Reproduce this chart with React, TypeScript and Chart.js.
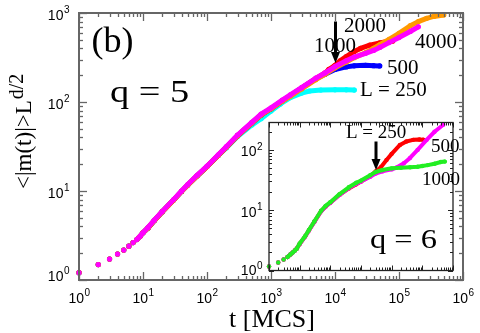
import React, { useEffect, useRef } from "react";
import { Chart, registerables } from "chart.js";
Chart.register(...registerables);

// ---------- main panel, q = 5 ----------
const tEarlyQ5 = [1, 2, 3, 4, 5, 6, 7, 8, 9, 10];
const mEarlyQ5 = [1.21, 1.49, 1.72, 1.96, 2.17, 2.4, 2.63, 2.85, 3.1, 3.4];

const tL4000 = [12, 15, 20, 30, 40, 50, 70, 100, 150, 200, 300, 500, 700, 1000, 1500, 2000, 3000, 5000, 7000, 10000, 15000, 20000, 30000, 40000, 50000, 70000, 100000, 150000, 200000];
const mL4000 = [3.9, 4.7, 5.9, 8.0, 10.0, 11.8, 15.0, 19.0, 25.5, 31.5, 42.5, 59, 73, 86, 105, 120, 145, 185, 212, 250, 290, 320, 352, 380, 410, 465, 530, 620, 700];

const tL2000 = [12, 15, 20, 30, 40, 50, 70, 100, 150, 200, 300, 500, 700, 1000, 1500, 2000, 3000, 5000, 7000, 10000, 15000, 20000, 30000, 40000, 50000, 70000, 100000, 150000, 200000, 270000, 350000, 500000];
const mL2000 = [3.85, 4.65, 5.85, 7.9, 9.9, 11.7, 14.8, 18.8, 25.2, 31, 41.8, 58, 71.5, 84, 102, 116, 140, 178, 205, 242, 282, 315, 358, 400, 440, 505, 590, 720, 800, 871, 915, 950];

const tL1000 = [12, 15, 20, 30, 40, 50, 70, 100, 150, 200, 300, 500, 700, 1000, 1500, 2000, 3000, 5000, 7000, 8000, 10000, 12000, 15000, 20000, 25000, 35000, 50000, 65000, 80000];
const mL1000 = [3.85, 4.65, 5.85, 7.9, 9.9, 11.7, 14.8, 18.8, 25.2, 31, 41.8, 58, 71.5, 84, 103, 118, 143, 183, 212, 232, 258, 290, 324, 370, 400, 435, 462, 478, 484];

const tL500 = [12, 15, 20, 30, 40, 50, 70, 100, 150, 200, 300, 500, 700, 1000, 1500, 2000, 3000, 5000, 7000, 10000, 15000, 20000, 30000, 40000, 50000];
const mL500 = [3.85, 4.65, 5.85, 7.9, 9.9, 11.7, 14.8, 18.8, 25.2, 31, 41.8, 58, 71.5, 84, 103, 118, 143, 182, 205, 232, 248, 255, 258, 256, 254];

const tL250 = [12, 15, 20, 30, 40, 50, 70, 100, 150, 200, 300, 500, 700, 1000, 1400, 2000, 3000, 4000, 6000, 10000, 15000, 20000];
const mL250 = [3.85, 4.65, 5.85, 7.9, 9.9, 11.7, 14.8, 18.8, 25, 30.5, 41, 55, 65, 79, 95, 112, 126, 133, 136, 137, 137, 136];

// ---------- inset, q = 6 ----------
const tEarlyQ6 = [1, 2, 3, 4, 5, 6, 7, 8];
const mEarlyQ6 = [1.17, 1.36, 1.52, 1.67, 1.85, 2.0, 2.15, 2.3];

const tL1000q6 = [10, 15, 20, 30, 50, 70, 100, 200, 400, 700, 1000, 2000, 3000, 5000, 10000, 20000, 40000, 70000, 100000, 150000, 250000, 400000, 540000];
const mL1000q6 = [2.8, 3.7, 4.7, 6.5, 9.8, 11.8, 13.6, 18.5, 24, 28.5, 31, 38, 43, 46.5, 49.5, 50.5, 51.5, 52.5, 54, 56, 59, 63, 64];

const tL500q6 = [10, 15, 20, 30, 50, 70, 100, 200, 400, 700, 1000, 2000, 3000, 5000, 10000, 14500, 25000, 39000, 70000, 138000, 250000, 480000];
const mL500q6 = [2.75, 3.65, 4.6, 6.4, 9.6, 11.5, 13.3, 18, 23.3, 27.5, 30, 36, 40.5, 44, 47.5, 51, 60, 73, 100, 147, 200, 261];

const tL250q6 = [10, 15, 20, 30, 50, 70, 100, 200, 400, 700, 1000, 2000, 3000, 4500, 6800, 10000, 18600, 30000, 50000, 80000, 107000];
const mL250q6 = [2.75, 3.65, 4.6, 6.4, 9.6, 11.5, 13.3, 18, 23, 27, 30, 37, 44, 52, 68, 86, 121, 138, 147, 149, 148];

const SERIF = '"Liberation Serif", "Times New Roman", serif';
const SANS = '"Liberation Sans", Arial, sans-serif';

const INSET_LEFT = 225;
const INSET_TOP = 110;

function series(ts: number[], ms: number[], color: string, order: number, r: number, bw: number, gapBelow: number) {
  return {
    data: ts.map((t, i) => ({ x: t, y: ms[i] })),
    showLine: true,
    borderColor: color,
    backgroundColor: color,
    pointRadius: r,
    pointHoverRadius: r,
    pointBorderWidth: 0,
    borderWidth: bw,
    borderJoinStyle: "round",
    borderCapStyle: "round",
    segment: {
      borderColor: (c: any) => (c.p0.parsed.x < gapBelow ? "rgba(0,0,0,0)" : color),
    },
    order,
    clip: 10,
  };
}

function drawPow(ctx: CanvasRenderingContext2D, exp: string, x: number, baseline: number, align: "center" | "right") {
  ctx.font = `14px ${SANS}`;
  const w1 = ctx.measureText("10").width;
  ctx.font = `10px ${SANS}`;
  const w2 = ctx.measureText(exp).width;
  const total = w1 + w2;
  const left = align === "center" ? x - total / 2 : x - total;
  ctx.textAlign = "left";
  ctx.textBaseline = "alphabetic";
  ctx.fillStyle = "#000";
  ctx.font = `14px ${SANS}`;
  ctx.fillText("10", left, baseline);
  ctx.font = `10px ${SANS}`;
  ctx.fillText(exp, left + w1 + 0.5, baseline - 6.5);
}

function drawTicks(ctx: CanvasRenderingContext2D, chart: any, majorLen: number, minorLen: number) {
  const a = chart.chartArea;
  const sx = chart.scales.x;
  const sy = chart.scales.y;
  const seg = (x0: number, y0: number, x1: number, y1: number) => {
    ctx.beginPath();
    ctx.moveTo(x0, y0);
    ctx.lineTo(x1, y1);
    ctx.stroke();
  };
  for (let d = 0; d <= 7; d++) {
    for (let k = 1; k <= 9; k++) {
      const v = k * Math.pow(10, d);
      if (v > sx.max * 1.0001) break;
      const px = Math.round(sx.getPixelForValue(v)) + 0.5;
      const len = k === 1 ? majorLen : minorLen;
      seg(px, a.bottom, px, a.bottom - len);
      seg(px, a.top, px, a.top + len);
    }
  }
  for (let d = 0; d <= 4; d++) {
    for (let k = 1; k <= 9; k++) {
      const v = k * Math.pow(10, d);
      if (v > sy.max * 1.0001) break;
      const py = Math.round(sy.getPixelForValue(v)) + 0.5;
      const len = k === 1 ? majorLen : minorLen;
      seg(a.left, py, a.left + len, py);
      seg(a.right, py, a.right - len, py);
    }
  }
}

function arrow(ctx: CanvasRenderingContext2D, x: number, y0: number, y1: number) {
  ctx.strokeStyle = "#000";
  ctx.fillStyle = "#000";
  ctx.lineWidth = 3;
  ctx.beginPath();
  ctx.moveTo(x, y0);
  ctx.lineTo(x, y1 - 9);
  ctx.stroke();
  ctx.beginPath();
  ctx.moveTo(x - 4.5, y1 - 11);
  ctx.lineTo(x + 4.5, y1 - 11);
  ctx.lineTo(x, y1);
  ctx.closePath();
  ctx.fill();
}

function stretched(ctx: CanvasRenderingContext2D, text: string, x: number, y: number, size: number, sx: number) {
  ctx.save();
  ctx.translate(x, y);
  ctx.scale(sx, 1);
  ctx.font = `${size}px ${SERIF}`;
  ctx.textAlign = "left";
  ctx.textBaseline = "alphabetic";
  ctx.fillStyle = "#000";
  ctx.fillText(text, 0, 0);
  ctx.restore();
}

const mainDecor = {
  id: "mainDecor",
  afterDraw(chart: any) {
    const ctx: CanvasRenderingContext2D = chart.ctx;
    const a = chart.chartArea;
    const sx = chart.scales.x;
    const sy = chart.scales.y;
    ctx.save();
    ctx.strokeStyle = "#666";
    ctx.lineWidth = 1.3;
    drawTicks(ctx, chart, 8, 4);
    ctx.lineWidth = 2;
    ctx.strokeRect(a.left, a.top, a.right - a.left, a.bottom - a.top);

    // tick labels
    for (let d = 0; d <= 6; d++) {
      drawPow(ctx, String(d), sx.getPixelForValue(Math.pow(10, d)), 302.5, "center");
    }
    for (let d = 0; d <= 3; d++) {
      const py = sy.getPixelForValue(Math.pow(10, d));
      drawPow(ctx, String(d), 69, py + 6.5 - (d === 0 ? 6 : 0), "right");
    }

    ctx.fillStyle = "#000";
    ctx.textAlign = "left";
    ctx.textBaseline = "alphabetic";
    // panel label
    ctx.font = `36px ${SERIF}`;
    ctx.fillText("(b)", 91.5, 51.5);
    stretched(ctx, "q = 5", 110, 101.5, 32, 1.2);

    // curve labels
    ctx.font = `21px ${SERIF}`;
    ctx.fillText("2000", 344, 32);
    ctx.fillText("1000", 314, 52);
    ctx.fillText("4000", 415, 48);
    ctx.fillText("500", 387, 74);
    ctx.fillText("L = 250", 360, 96);
    arrow(ctx, 335.5, 21.5, 63);

    // axis titles
    ctx.fillStyle = "#000";
    ctx.font = `26px ${SERIF}`;
    ctx.textAlign = "center";
    ctx.fillText("t [MCS]", 272, 327);

    ctx.save();
    ctx.translate(31, 189);
    ctx.rotate(-Math.PI / 2);
    ctx.textAlign = "left";
    ctx.font = `23px ${SERIF}`;
    const main = "<|m(t)|>L";
    ctx.fillText(main, 0, 0);
    const w = ctx.measureText(main).width;
    ctx.font = `20px ${SERIF}`;
    ctx.fillText("d/2", w + 1, -8);
    ctx.restore();

    ctx.restore();
  },
};

const insetDecor = {
  id: "insetDecor",
  beforeDraw(chart: any) {
    const ctx: CanvasRenderingContext2D = chart.ctx;
    const a = chart.chartArea;
    ctx.save();
    ctx.fillStyle = "#fff";
    ctx.fillRect(a.left, a.top, a.right - a.left, a.bottom - a.top);
    ctx.restore();
  },
  afterDraw(chart: any) {
    const ctx: CanvasRenderingContext2D = chart.ctx;
    const a = chart.chartArea;
    const sy = chart.scales.y;
    ctx.save();
    ctx.strokeStyle = "#222";
    ctx.lineWidth = 1;
    drawTicks(ctx, chart, 5, 3);
    ctx.lineWidth = 1.3;
    ctx.strokeRect(a.left, a.top, a.right - a.left, a.bottom - a.top);

    for (let d = 0; d <= 2; d++) {
      const py = sy.getPixelForValue(Math.pow(10, d));
      drawPow(ctx, String(d), a.left - 7, py + 6.5 - (d === 0 ? 2 : 0), "right");
    }

    ctx.translate(-INSET_LEFT, -INSET_TOP);
    ctx.fillStyle = "#000";
    ctx.textAlign = "left";
    ctx.textBaseline = "alphabetic";
    ctx.font = `19px ${SERIF}`;
    ctx.fillText("L = 250", 346, 138);
    ctx.fillText("500", 431, 152);
    ctx.fillText("1000", 422, 185);
    stretched(ctx, "q = 6", 370, 248, 27, 1.2);
    arrow(ctx, 376, 141.5, 170);
    ctx.restore();
  },
};

export default function App() {
  const mainRef = useRef<HTMLCanvasElement>(null);
  const insetRef = useRef<HTMLCanvasElement>(null);

  useEffect(() => {
    const commonOpts = (padding: any, ymax: number) => ({
      animation: false as const,
      responsive: false,
      devicePixelRatio: 1,
      events: [] as any[],
      layout: { padding },
      plugins: { legend: { display: false }, tooltip: { enabled: false } },
      scales: {
        x: { type: "logarithmic" as const, min: 1, max: 1e6, display: false },
        y: { type: "logarithmic" as const, min: 1, max: ymax, display: false },
      },
    });

    const main = new Chart(mainRef.current!, {
      type: "scatter",
      data: {
        datasets: [
          series([...tEarlyQ5, ...tL4000], [...mEarlyQ5, ...mL4000], "#ff00ff", 0, 2.6, 5, 8),
          series([...tEarlyQ5, ...tL2000], [...mEarlyQ5, ...mL2000], "#ff9900", 1, 2.6, 5, 8),
          series([...tEarlyQ5, ...tL1000], [...mEarlyQ5, ...mL1000], "#ff0000", 2, 2.6, 5, 8),
          series([...tEarlyQ5, ...tL500], [...mEarlyQ5, ...mL500], "#0000ff", 3, 2.6, 5, 8),
          series([...tEarlyQ5, ...tL250], [...mEarlyQ5, ...mL250], "#00ffff", 4, 2.6, 5, 8),
        ] as any,
      },
      options: commonOpts({ left: 79, right: 17, top: 13, bottom: 53 }, 1000) as any,
      plugins: [mainDecor],
    });

    const inset = new Chart(insetRef.current!, {
      type: "scatter",
      data: {
        datasets: [
          series([...tEarlyQ6, ...tL1000q6], [...mEarlyQ6, ...mL1000q6], "#22ee22", 0, 2.2, 4, 4),
          series([...tEarlyQ6, ...tL500q6], [...mEarlyQ6, ...mL500q6], "#ff00ff", 1, 2.2, 4, 4),
          series([...tEarlyQ6, ...tL250q6], [...mEarlyQ6, ...mL250q6], "#ff0000", 2, 2.2, 4, 4),
        ] as any,
      },
      options: commonOpts({ left: 44, right: 12, top: 12.5, bottom: 9.5 }, 285) as any,
      plugins: [insetDecor],
    });

    return () => {
      main.destroy();
      inset.destroy();
    };
  }, []);

  return (
    <div style={{ position: "fixed", left: 0, top: 0, width: 480, height: 333, background: "#fff" }}>
      <canvas ref={mainRef} width={480} height={333} style={{ position: "absolute", left: 0, top: 0, width: 480, height: 333 }} />
      <canvas
        ref={insetRef}
        width={240}
        height={170}
        style={{ position: "absolute", left: INSET_LEFT, top: INSET_TOP, width: 240, height: 170 }}
      />
    </div>
  );
}
